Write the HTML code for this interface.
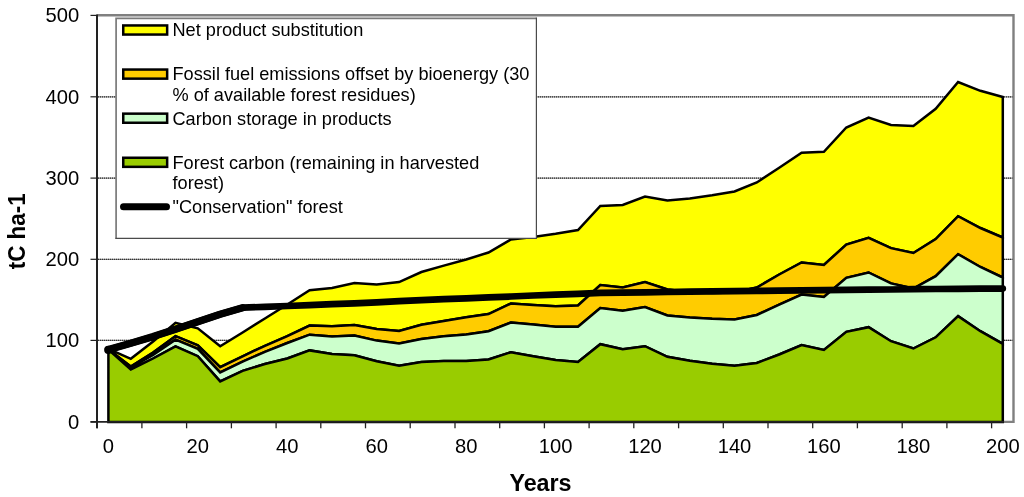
<!DOCTYPE html>
<html><head><meta charset="utf-8"><title>Carbon chart</title>
<style>
html,body{margin:0;padding:0;background:#fff;}
body{width:1024px;height:497px;overflow:hidden;}
svg{display:block;font-family:"Liberation Sans",Arial,sans-serif;}
</style></head><body>
<svg width="1024" height="497" viewBox="0 0 1024 497">
<rect width="1024" height="497" fill="#fff"/>

<line x1="98" x2="1014" y1="340.4" y2="340.4" stroke="#8a8a8a" stroke-width="1.2"/>
<line x1="98" x2="1014" y1="340.4" y2="340.4" stroke="#333" stroke-width="1.2" stroke-dasharray="1,1"/>
<line x1="98" x2="1014" y1="259.3" y2="259.3" stroke="#8a8a8a" stroke-width="1.2"/>
<line x1="98" x2="1014" y1="259.3" y2="259.3" stroke="#333" stroke-width="1.2" stroke-dasharray="1,1"/>
<line x1="98" x2="1014" y1="178.1" y2="178.1" stroke="#8a8a8a" stroke-width="1.2"/>
<line x1="98" x2="1014" y1="178.1" y2="178.1" stroke="#333" stroke-width="1.2" stroke-dasharray="1,1"/>
<line x1="98" x2="1014" y1="96.8" y2="96.8" stroke="#8a8a8a" stroke-width="1.2"/>
<line x1="98" x2="1014" y1="96.8" y2="96.8" stroke="#333" stroke-width="1.2" stroke-dasharray="1,1"/>
<polyline points="97.2,15.25 1013.5,15.25 1013.5,421.9 1003,421.9" fill="none" stroke="#808080" stroke-width="2.4"/>
<polygon points="108.4,348.8 130.8,358.8 153.1,341.6 175.5,322.9 197.8,328.3 220.2,346.2 242.6,332.5 264.9,318.5 287.3,304.5 309.6,290.3 332.0,288.0 354.4,283.1 376.7,284.4 399.1,282.1 421.4,272.0 443.8,265.6 466.2,259.5 488.5,252.5 510.9,239.5 533.2,237.0 555.6,233.8 578.0,230.0 600.3,205.9 622.7,205.0 645.0,196.5 667.4,200.5 689.8,198.5 712.1,195.3 734.5,191.5 756.8,182.5 779.2,167.8 801.6,152.7 823.9,151.8 846.3,127.5 868.6,117.5 891.0,125.0 913.4,126.0 935.7,108.8 958.1,82.0 980.4,90.8 1002.8,97.0 1002.8,237.5 980.4,228.0 958.1,216.2 935.7,239.1 913.4,253.0 891.0,248.1 868.6,237.8 846.3,244.5 823.9,265.0 801.6,262.5 779.2,274.5 756.8,287.5 734.5,292.5 712.1,293.0 689.8,292.0 667.4,289.5 645.0,282.0 622.7,287.5 600.3,285.0 578.0,305.5 555.6,306.2 533.2,305.0 510.9,303.5 488.5,314.1 466.2,317.3 443.8,320.9 421.4,324.8 399.1,331.0 376.7,329.1 354.4,325.0 332.0,326.2 309.6,325.5 287.3,336.1 264.9,345.8 242.6,356.3 220.2,367.2 197.8,345.4 175.5,336.2 153.1,352.5 130.8,366.5 108.4,349.5" fill="#ffff00" stroke="#000" stroke-width="2.5" stroke-linejoin="miter"/>
<polygon points="108.4,349.5 130.8,366.5 153.1,352.5 175.5,336.2 197.8,345.4 220.2,367.2 242.6,356.3 264.9,345.8 287.3,336.1 309.6,325.5 332.0,326.2 354.4,325.0 376.7,329.1 399.1,331.0 421.4,324.8 443.8,320.9 466.2,317.3 488.5,314.1 510.9,303.5 533.2,305.0 555.6,306.2 578.0,305.5 600.3,285.0 622.7,287.5 645.0,282.0 667.4,289.5 689.8,292.0 712.1,293.0 734.5,292.5 756.8,287.5 779.2,274.5 801.6,262.5 823.9,265.0 846.3,244.5 868.6,237.8 891.0,248.1 913.4,253.0 935.7,239.1 958.1,216.2 980.4,228.0 1002.8,237.5 1002.8,277.5 980.4,267.0 958.1,254.2 935.7,276.2 913.4,288.5 891.0,283.4 868.6,272.5 846.3,277.8 823.9,297.0 801.6,294.5 779.2,304.6 756.8,315.0 734.5,319.5 712.1,318.8 689.8,317.5 667.4,315.5 645.0,307.0 622.7,310.8 600.3,308.0 578.0,326.8 555.6,326.8 533.2,324.5 510.9,322.5 488.5,331.2 466.2,334.5 443.8,336.2 421.4,339.0 399.1,343.5 376.7,340.6 354.4,335.5 332.0,336.5 309.6,334.7 287.3,343.0 264.9,351.8 242.6,361.7 220.2,372.4 197.8,348.8 175.5,339.6 153.1,355.0 130.8,367.6 108.4,349.5" fill="#ffcc00" stroke="#000" stroke-width="2.5" stroke-linejoin="miter"/>
<polygon points="108.4,349.5 130.8,367.6 153.1,355.0 175.5,339.6 197.8,348.8 220.2,372.4 242.6,361.7 264.9,351.8 287.3,343.0 309.6,334.7 332.0,336.5 354.4,335.5 376.7,340.6 399.1,343.5 421.4,339.0 443.8,336.2 466.2,334.5 488.5,331.2 510.9,322.5 533.2,324.5 555.6,326.8 578.0,326.8 600.3,308.0 622.7,310.8 645.0,307.0 667.4,315.5 689.8,317.5 712.1,318.8 734.5,319.5 756.8,315.0 779.2,304.6 801.6,294.5 823.9,297.0 846.3,277.8 868.6,272.5 891.0,283.4 913.4,288.5 935.7,276.2 958.1,254.2 980.4,267.0 1002.8,277.5 1002.8,343.8 980.4,331.2 958.1,316.2 935.7,337.3 913.4,348.5 891.0,341.2 868.6,327.2 846.3,331.8 823.9,350.0 801.6,345.0 779.2,354.5 756.8,363.0 734.5,365.8 712.1,363.8 689.8,360.8 667.4,356.8 645.0,346.2 622.7,349.2 600.3,344.2 578.0,362.0 555.6,360.0 533.2,356.2 510.9,352.2 488.5,359.5 466.2,361.0 443.8,361.0 421.4,362.0 399.1,365.8 376.7,361.2 354.4,355.2 332.0,354.0 309.6,350.4 287.3,358.5 264.9,364.0 242.6,370.9 220.2,381.4 197.8,356.2 175.5,346.3 153.1,358.5 130.8,369.6 108.4,349.5" fill="#ccffcc" stroke="#000" stroke-width="2.5" stroke-linejoin="miter"/>
<polygon points="108.4,349.5 130.8,369.6 153.1,358.5 175.5,346.3 197.8,356.2 220.2,381.4 242.6,370.9 264.9,364.0 287.3,358.5 309.6,350.4 332.0,354.0 354.4,355.2 376.7,361.2 399.1,365.8 421.4,362.0 443.8,361.0 466.2,361.0 488.5,359.5 510.9,352.2 533.2,356.2 555.6,360.0 578.0,362.0 600.3,344.2 622.7,349.2 645.0,346.2 667.4,356.8 689.8,360.8 712.1,363.8 734.5,365.8 756.8,363.0 779.2,354.5 801.6,345.0 823.9,350.0 846.3,331.8 868.6,327.2 891.0,341.2 913.4,348.5 935.7,337.3 958.1,316.2 980.4,331.2 1002.8,343.8 1002.8,421.9 108.4,421.9" fill="#99cc00" stroke="#000" stroke-width="2.5" stroke-linejoin="miter"/>
<polyline points="108.4,349.6 130.8,343.2 153.1,336.6 175.5,329.3 197.8,321.8 220.2,314.3 242.6,307.7 264.9,306.8 287.3,306.0 309.6,305.1 332.0,304.2 354.4,303.4 376.7,302.3 399.1,301.2 421.4,300.1 443.8,299.2 466.2,298.3 488.5,297.4 510.9,296.5 533.2,295.5 555.6,294.6 578.0,293.8 600.3,292.9 622.7,292.6 645.0,292.3 667.4,292.0 689.8,291.7 712.1,291.4 734.5,291.1 756.8,290.9 779.2,290.6 801.6,290.4 823.9,290.2 846.3,289.9 868.6,289.7 891.0,289.5 913.4,289.2 935.7,289.0 958.1,288.9 980.4,288.7 1002.8,288.6" fill="none" stroke="#000" stroke-width="6.7" stroke-linecap="round" stroke-linejoin="round"/>
<polyline points="108.4,349.6 130.8,343.2 153.1,336.6 175.5,329.3 197.8,321.8 220.2,314.3 242.6,307.7" fill="none" stroke="#000" stroke-width="7.4" stroke-linecap="round" stroke-linejoin="round"/>
<circle cx="108.3" cy="349.9" r="4.1" fill="#000"/>
<line x1="97" x2="97" y1="14.6" y2="428.3" stroke="#222" stroke-width="2"/>
<line x1="90.5" x2="1003.9" y1="421.9" y2="421.9" stroke="#222" stroke-width="1.7"/>
<line x1="90.5" x2="97.2" y1="421.9" y2="421.9" stroke="#222" stroke-width="1.2"/>
<text x="79.2" y="428.6" font-size="20.2" text-anchor="end">0</text>
<line x1="90.5" x2="97.2" y1="340.4" y2="340.4" stroke="#222" stroke-width="1.2"/>
<text x="79.2" y="347.1" font-size="20.2" text-anchor="end">100</text>
<line x1="90.5" x2="97.2" y1="259.3" y2="259.3" stroke="#222" stroke-width="1.2"/>
<text x="79.2" y="266.0" font-size="20.2" text-anchor="end">200</text>
<line x1="90.5" x2="97.2" y1="178.1" y2="178.1" stroke="#222" stroke-width="1.2"/>
<text x="79.2" y="184.8" font-size="20.2" text-anchor="end">300</text>
<line x1="90.5" x2="97.2" y1="96.8" y2="96.8" stroke="#222" stroke-width="1.2"/>
<text x="79.2" y="103.5" font-size="20.2" text-anchor="end">400</text>
<line x1="90.5" x2="97.2" y1="15.4" y2="15.4" stroke="#222" stroke-width="1.2"/>
<text x="79.2" y="22.1" font-size="20.2" text-anchor="end">500</text>
<line x1="97.2" x2="97.2" y1="421.9" y2="428.3" stroke="#222" stroke-width="1.3"/>
<line x1="141.9" x2="141.9" y1="421.9" y2="428.3" stroke="#222" stroke-width="1.3"/>
<line x1="186.6" x2="186.6" y1="421.9" y2="428.3" stroke="#222" stroke-width="1.3"/>
<line x1="231.4" x2="231.4" y1="421.9" y2="428.3" stroke="#222" stroke-width="1.3"/>
<line x1="276.1" x2="276.1" y1="421.9" y2="428.3" stroke="#222" stroke-width="1.3"/>
<line x1="320.8" x2="320.8" y1="421.9" y2="428.3" stroke="#222" stroke-width="1.3"/>
<line x1="365.5" x2="365.5" y1="421.9" y2="428.3" stroke="#222" stroke-width="1.3"/>
<line x1="410.2" x2="410.2" y1="421.9" y2="428.3" stroke="#222" stroke-width="1.3"/>
<line x1="455.0" x2="455.0" y1="421.9" y2="428.3" stroke="#222" stroke-width="1.3"/>
<line x1="499.7" x2="499.7" y1="421.9" y2="428.3" stroke="#222" stroke-width="1.3"/>
<line x1="544.4" x2="544.4" y1="421.9" y2="428.3" stroke="#222" stroke-width="1.3"/>
<line x1="589.1" x2="589.1" y1="421.9" y2="428.3" stroke="#222" stroke-width="1.3"/>
<line x1="633.8" x2="633.8" y1="421.9" y2="428.3" stroke="#222" stroke-width="1.3"/>
<line x1="678.6" x2="678.6" y1="421.9" y2="428.3" stroke="#222" stroke-width="1.3"/>
<line x1="723.3" x2="723.3" y1="421.9" y2="428.3" stroke="#222" stroke-width="1.3"/>
<line x1="768.0" x2="768.0" y1="421.9" y2="428.3" stroke="#222" stroke-width="1.3"/>
<line x1="812.7" x2="812.7" y1="421.9" y2="428.3" stroke="#222" stroke-width="1.3"/>
<line x1="857.4" x2="857.4" y1="421.9" y2="428.3" stroke="#222" stroke-width="1.3"/>
<line x1="902.2" x2="902.2" y1="421.9" y2="428.3" stroke="#222" stroke-width="1.3"/>
<line x1="946.9" x2="946.9" y1="421.9" y2="428.3" stroke="#222" stroke-width="1.3"/>
<line x1="991.6" x2="991.6" y1="421.9" y2="428.3" stroke="#222" stroke-width="1.3"/>
<text x="108.4" y="452.9" font-size="20.2" text-anchor="middle">0</text>
<text x="197.8" y="452.9" font-size="20.2" text-anchor="middle">20</text>
<text x="287.3" y="452.9" font-size="20.2" text-anchor="middle">40</text>
<text x="376.7" y="452.9" font-size="20.2" text-anchor="middle">60</text>
<text x="466.2" y="452.9" font-size="20.2" text-anchor="middle">80</text>
<text x="555.6" y="452.9" font-size="20.2" text-anchor="middle">100</text>
<text x="645.0" y="452.9" font-size="20.2" text-anchor="middle">120</text>
<text x="734.5" y="452.9" font-size="20.2" text-anchor="middle">140</text>
<text x="823.9" y="452.9" font-size="20.2" text-anchor="middle">160</text>
<text x="913.4" y="452.9" font-size="20.2" text-anchor="middle">180</text>
<text x="1002.8" y="452.9" font-size="20.2" text-anchor="middle">200</text>
<text x="540.5" y="491.3" font-size="23.3" font-weight="bold" text-anchor="middle">Years</text>
<text transform="translate(25.2,231.3) rotate(-90)" font-size="23.8" font-weight="bold" text-anchor="middle" textLength="76" lengthAdjust="spacingAndGlyphs">tC ha-1</text>
<rect x="116.1" y="18.4" width="420.3" height="220" fill="#fff"/><polyline points="116.1,238.4 116.1,18.4 536.4,18.4" fill="none" stroke="#7a7a7a" stroke-width="1.7"/><polyline points="536.4,17.6 536.4,238.4 115.3,238.4" fill="none" stroke="#4a4a4a" stroke-width="1.2"/>
<rect x="123.25" y="25.45" width="43.9" height="9.1" fill="#ffff00" stroke="#000" stroke-width="2.5"/>
<text x="172.5" y="36.2" font-size="18.16">Net product substitution</text>
<rect x="123.25" y="69.55" width="43.9" height="9.1" fill="#ffcc00" stroke="#000" stroke-width="2.5"/>
<text x="172.5" y="80.3" font-size="18.16">Fossil fuel emissions offset by bioenergy (30</text>
<text x="172.5" y="101.1" font-size="18.16">% of available forest residues)</text>
<rect x="123.25" y="113.65" width="43.9" height="9.1" fill="#ccffcc" stroke="#000" stroke-width="2.5"/>
<text x="172.5" y="124.5" font-size="18.16">Carbon storage in products</text>
<rect x="123.25" y="157.75" width="43.9" height="9.1" fill="#99cc00" stroke="#000" stroke-width="2.5"/>
<text x="172.5" y="168.6" font-size="18.16">Forest carbon (remaining in harvested</text>
<text x="172.5" y="189.3" font-size="18.16">forest)</text>
<line x1="123.5" x2="166.5" y1="206.75" y2="206.75" stroke="#000" stroke-width="7" stroke-linecap="round"/>
<text x="172.5" y="212.5" font-size="18.16">"Conservation" forest</text>
</svg></body></html>
